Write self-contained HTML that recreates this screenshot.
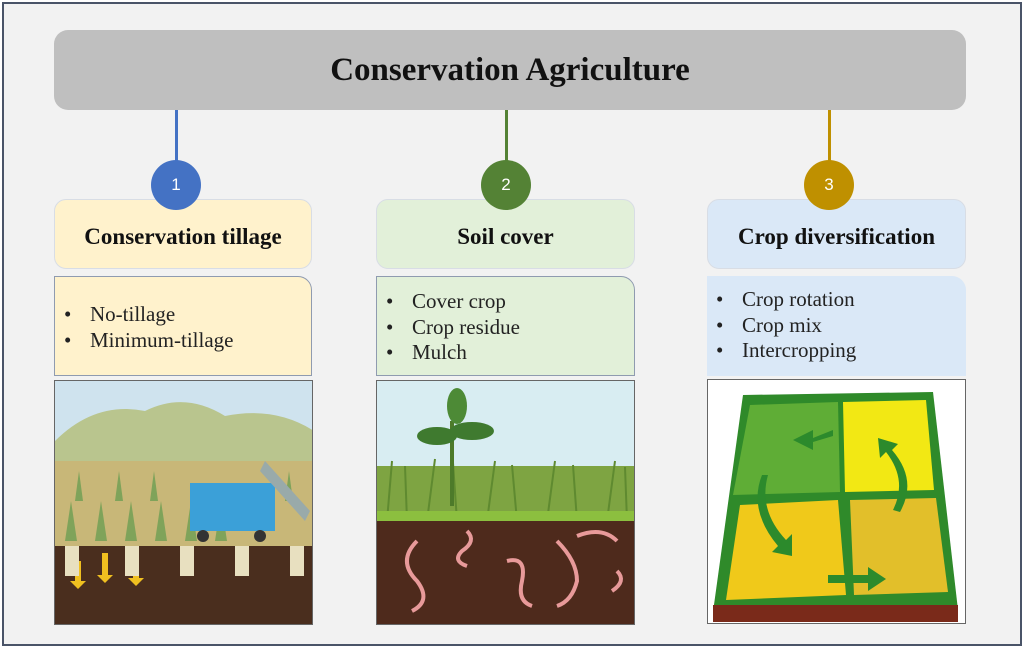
<!DOCTYPE html>
<html><head><meta charset="utf-8"><style>
body{margin:0;width:1024px;height:648px;background:#fff;font-family:"Liberation Serif",serif;overflow:hidden}
.frame{position:absolute;left:2px;top:2px;width:1016px;height:640px;border:2px solid #4a5468;background:#f2f2f2}
.abs{position:absolute}
.title{left:54px;top:30px;width:912px;height:80px;background:#bfbfbf;border-radius:14px;text-align:center;line-height:80px;font-weight:bold;font-size:33px;color:#111}
.line{width:3px}
.circ{width:50px;height:50px;border-radius:50%;color:#fff;text-align:center;line-height:50px;font-family:"Liberation Sans",sans-serif;font-size:17px;z-index:2}
.hdr{height:70px;border-radius:12px;text-align:center;line-height:74px;font-weight:bold;font-size:23px;color:#111;box-sizing:border-box;border:1px solid #d8dde5}
.list{height:100px;border-radius:0 14px 0 0;box-sizing:border-box;border:1px solid #8f9bb0;font-size:21px;color:#222;padding-left:9px}
.list div{line-height:25.5px}
.list b{font-weight:normal;display:inline-block;width:26px}
.img{height:245px;box-sizing:border-box;border:1px solid #666;overflow:hidden}
</style></head><body>
<div class="frame"></div>
<div class="abs title">Conservation Agriculture</div>

<div class="abs line" style="left:175px;top:110px;height:55px;background:#4472c4"></div>
<div class="abs line" style="left:505px;top:110px;height:55px;background:#548235"></div>
<div class="abs line" style="left:828px;top:110px;height:55px;background:#bf9000"></div>
<div class="abs circ" style="left:151px;top:160px;background:#4472c4">1</div>
<div class="abs circ" style="left:481px;top:160px;background:#548235">2</div>
<div class="abs circ" style="left:804px;top:160px;background:#bf9000">3</div>

<div class="abs hdr" style="left:54px;top:199px;width:258px;background:#fff2cc">Conservation tillage</div>
<div class="abs hdr" style="left:376px;top:199px;width:259px;background:#e2f0d9">Soil cover</div>
<div class="abs hdr" style="left:707px;top:199px;width:259px;background:#dae8f7">Crop diversification</div>

<div class="abs list" style="left:54px;top:276px;width:258px;background:#fff2cc;padding-top:25px"><div><b>•</b>No-tillage</div><div><b>•</b>Minimum-tillage</div></div>
<div class="abs list" style="left:376px;top:276px;width:259px;background:#e2f0d9;padding-top:12px"><div><b>•</b>Cover crop</div><div><b>•</b>Crop residue</div><div><b>•</b>Mulch</div></div>
<div class="abs list" style="left:707px;top:276px;width:259px;background:#dae8f7;border:none;padding-top:11px"><div><b>•</b>Crop rotation</div><div><b>•</b>Crop mix</div><div><b>•</b>Intercropping</div></div>

<div class="abs img" style="left:54px;top:380px;width:259px">
<svg width="259" height="245">
<rect width="259" height="245" fill="#cfe3ee"/>
<path d="M0 60 Q40 20 90 30 Q130 10 170 35 Q220 25 259 50 L259 120 L0 120Z" fill="#b9c58e"/>
<rect y="80" width="259" height="90" fill="#c8b778"/>
<g fill="#7fa35a"><path d="M10 160 l6 -40 l6 40z"/><path d="M40 160 l6 -40 l6 40z"/><path d="M70 160 l6 -40 l6 40z"/><path d="M100 160 l6 -40 l6 40z"/><path d="M130 160 l6 -40 l6 40z"/><path d="M160 160 l6 -40 l6 40z"/><path d="M20 120 l4 -30 l4 30z"/><path d="M60 120 l4 -30 l4 30z"/><path d="M95 120 l4 -30 l4 30z"/><path d="M230 120 l4 -30 l4 30z"/></g>
<rect x="135" y="102" width="85" height="48" fill="#3ba0d8"/>
<path d="M210 80 L255 130 L250 140 L205 90Z" fill="#9aa"/>
<circle cx="148" cy="155" r="6" fill="#333"/><circle cx="205" cy="155" r="6" fill="#333"/>
<rect y="165" width="259" height="80" fill="#4a2e1e"/>
<g fill="#f0c020"><path d="M20 180 h6 v20 h5 l-8 8 l-8 -8 h5z"/><path d="M47 172 h6 v22 h5 l-8 8 l-8 -8 h5z"/><path d="M78 172 h6 v25 h5 l-8 8 l-8 -8 h5z"/></g>
<g fill="#e8e0c0"><rect x="10" y="165" width="14" height="30"/><rect x="70" y="165" width="14" height="30"/><rect x="125" y="165" width="14" height="30"/><rect x="180" y="165" width="14" height="30"/><rect x="235" y="165" width="14" height="30"/></g>
</svg></div>

<div class="abs img" style="left:376px;top:380px;width:259px">
<svg width="259" height="245">
<rect width="259" height="245" fill="#d8edf2"/>
<rect y="85" width="259" height="55" fill="#7ea442"/>
<g stroke="#5f8a30" stroke-width="2"><path d="M10 140 L15 80 M30 140 L28 85 M50 140 L58 78 M80 140 L76 82 M110 140 L118 80 M140 140 L135 84 M170 140 L178 80 M200 140 L196 84 M230 140 L238 80 M250 140 L248 86"/></g>
<path d="M75 125 L75 40" stroke="#4d7a2a" stroke-width="4"/>
<ellipse cx="60" cy="55" rx="20" ry="9" fill="#3f7a2f"/><ellipse cx="95" cy="50" rx="22" ry="9" fill="#3f7a2f"/><ellipse cx="80" cy="25" rx="10" ry="18" fill="#4d8a36"/>
<rect y="130" width="259" height="10" fill="#8cbf3f"/>
<rect y="140" width="259" height="105" fill="#4e2a1c"/>
<g stroke="#e89a9a" stroke-width="4" fill="none"><path d="M40 160 q-20 20 0 40 q15 20 -5 30"/><path d="M90 150 q10 10 -5 20 q-10 10 5 15"/><path d="M130 180 q20 -5 15 20 q-5 20 10 25"/><path d="M180 160 q20 20 20 40 q-5 20 -20 25"/><path d="M200 155 q25 -10 40 5"/><path d="M240 190 q10 10 -5 20"/></g>
</svg></div>

<div class="abs img" style="left:707px;top:379px;width:259px">
<svg width="259" height="246">
<rect width="259" height="246" fill="#fff"/>
<polygon points="35,15 225,12 250,230 5,232" fill="#2f8a2a"/>
<polygon points="42,25 130,22 132,112 25,115" fill="#5fad36"/>
<polygon points="135,22 218,20 226,110 137,112" fill="#f2e814"/>
<polygon points="32,125 130,120 138,215 18,220" fill="#f0c91a"/>
<polygon points="142,120 228,118 240,212 146,215" fill="#e2bf2a"/>
<rect x="5" y="225" width="245" height="17" fill="#7a2a1a"/>
<g fill="#2c8a2c"><path d="M125 50 L105 58 L105 50 L85 60 L105 70 L105 62 L125 56Z"/><path d="M60 95 Q50 130 78 160 l6 -6 l0 22 l-20 -4 l6 -6 Q40 130 54 95Z"/><path d="M185 130 Q200 100 178 72 l-6 6 l-2 -20 l20 6 l-6 6 Q210 100 192 132Z"/><path d="M120 195 h40 v-8 l18 12 l-18 12 v-8 h-40z"/></g>
</svg></div>
</body></html>
